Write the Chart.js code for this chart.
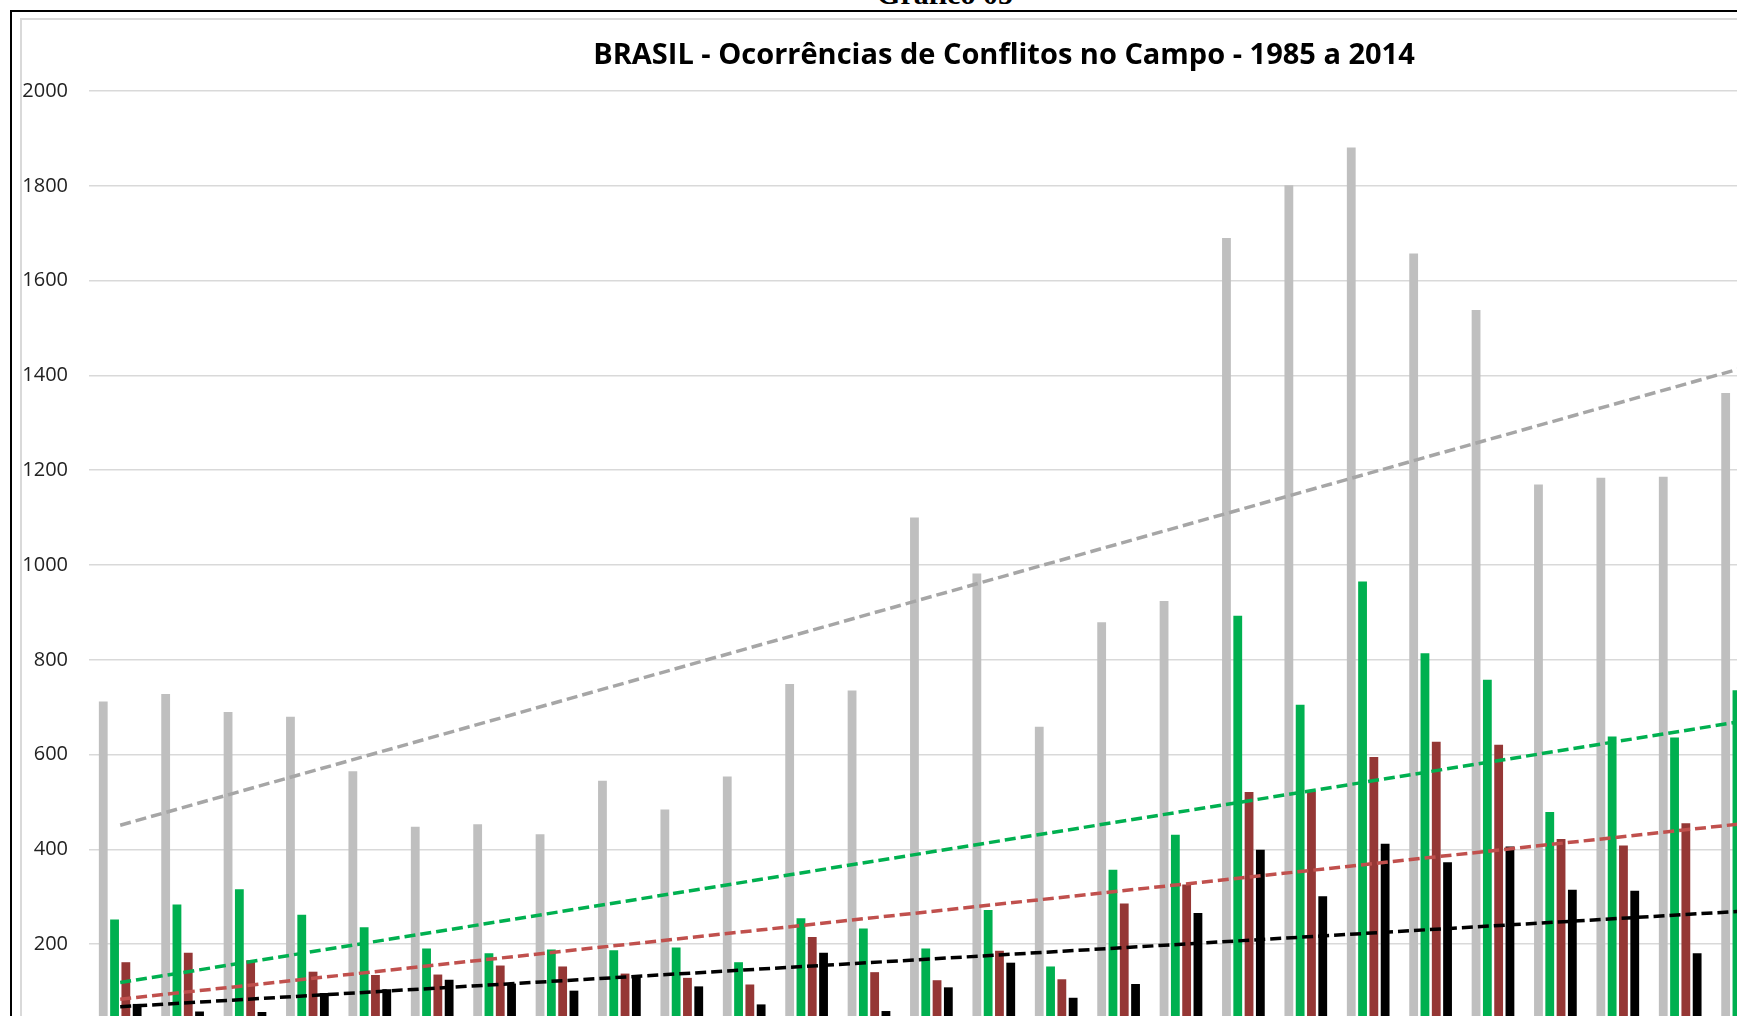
<!DOCTYPE html>
<html>
<head>
<meta charset="utf-8">
<script src="https://cdn.jsdelivr.net/npm/chart.js@4.4.0/dist/chart.umd.min.js"></script>
<style>
  html, body { margin:0; padding:0; background:#fff; overflow:hidden; width:1737px; height:1016px; }
  #doc-title { position:absolute; left:945px; top:-21px; transform:translateX(-50%); font-family:"Liberation Serif", "DejaVu Serif", serif; font-weight:bold; font-size:30px; line-height:30px; color:#000; white-space:nowrap; }
  #frame { position:absolute; left:10px; top:10px; width:2000px; height:1200px; border:2px solid #000; box-sizing:border-box; }
  #area { position:absolute; left:20px; top:18px; width:2000px; height:1200px; border:2px solid #d9d9d9; box-sizing:border-box; }
  #wrap { position:absolute; left:0; top:0; width:2000px; height:1100px; }
  canvas { position:absolute; left:0; top:0; }
</style>
</head>
<body>
<div id="doc-title">Gráfico 05</div>
<div id="frame"></div>
<div id="area"></div>
<div id="wrap"><canvas id="c" width="2000" height="1100"></canvas></div>
<script>
// ---- data ----
const chartTitle = 'BRASIL - Ocorrências de Conflitos no Campo - 1985 a 2014';
const years = ['1985','1986','1987','1988','1989','1990','1991','1992','1993','1994',
               '1995','1996','1997','1998','1999','2000','2001','2002','2003','2004',
               '2005','2006','2007','2008','2009','2010','2011','2012','2013','2014'];
const totalConflitos = [712,728,690,680,565,448,453,432,545,484,554,749,735,1100,982,659,879,924,1690,1801,1881,1657,1538,1170,1184,1186,1363,1364,1266,1286];
const conflitosTerra = [252,284,316,262,236,191,181,189,187,193,162,255,233,191,272,153,357,431,893,705,965,814,758,479,638,636,736,655,560,610];
const ocupacoes = [162,182,166,142,135,136,155,153,138,129,115,215,141,124,186,126,286,326,521,522,595,627,621,422,408,455,400,380,370,381];
const acampamentos = [74,58,57,97,105,125,117,102,131,111,73,182,59,109,161,87,116,266,399,301,412,373,406,315,313,181,190,180,160,156];
// linear trend lines: value at first and last year
const trendTotal = [451, 1527];
const trendTerra = [119, 734];
const trendOcup = [84, 497];
const trendAcamp = [68, 293];
const yTicks = [0,200,400,600,800,1000,1200,1400,1600,1800,2000];

function trendSeries(t) {
  return years.map((_, i) => i === 0 ? t[0] : (i === years.length - 1 ? t[1] : null));
}
function trendDs(label, t, color) {
  return { type:'line', label, data: trendSeries(t), borderColor: color, borderWidth: 3.5,
           borderDash:[11,5], pointRadius:0, spanGaps:true, fill:false, order:-1 };
}
function barDs(label, data, color) {
  return { type:'bar', label, data, backgroundColor: color, borderWidth:0,
           categoryPercentage:0.724, barPercentage:0.78 };
}

// chart title drawn on the canvas (centred over the Excel chart area)
const titlePlugin = {
  id:'excelTitle',
  afterDraw(chart) {
    const ctx = chart.ctx;
    ctx.save();
    ctx.font = 'bold 29px "Open Sans", sans-serif';
    ctx.fillStyle = '#000';
    ctx.textAlign = 'center';
    ctx.textBaseline = 'middle';
    ctx.fillText(chartTitle, 1004, 56);
    ctx.restore();
  }
};

new Chart(document.getElementById('c'), {
  data: {
    labels: years,
    datasets: [
      barDs('Total de Conflitos', totalConflitos, '#BFBFBF'),
      barDs('Conflitos por Terra', conflitosTerra, '#00B050'),
      barDs('Ocupações', ocupacoes, '#953735'),
      barDs('Acampamentos', acampamentos, '#000000'),
      trendDs('Linear (Total de Conflitos)', trendTotal, '#A6A6A6'),
      trendDs('Linear (Conflitos por Terra)', trendTerra, '#00B050'),
      trendDs('Linear (Ocupações)', trendOcup, '#C0504D'),
      trendDs('Linear (Acampamentos)', trendAcamp, '#000000')
    ]
  },
  plugins:[titlePlugin],
  options: {
    responsive:false,
    animation:false,
    devicePixelRatio:1,
    layout:{ padding:{ left:0, right:39, top:91, bottom:20 } },
    plugins:{
      legend:{ display:false },
      tooltip:{ enabled:false },
      title:{ display:false }
    },
    scales:{
      x:{
        grid:{ display:false, drawTicks:false },
        border:{ display:true, color:'#d9d9d9' },
        ticks:{ color:'#333', font:{ family:'"Open Sans", sans-serif', size:18 }, autoSkip:false, maxRotation:0 },
        afterFit:(s)=>{ s.height = 41; }
      },
      y:{
        min:0, max:2000,
        afterBuildTicks:(s)=>{ s.ticks = yTicks.map(v=>({value:v})); },
        grid:{ color:'#d9d9d9', lineWidth:1.5, drawTicks:false },
        border:{ display:false },
        ticks:{ color:'#222', padding:21, font:{ family:'"Open Sans", sans-serif', size:20 },
                callback:(v)=>String(v) },
        afterFit:(s)=>{ s.width = 89; }
      }
    }
  }
});
</script>
</body>
</html>
